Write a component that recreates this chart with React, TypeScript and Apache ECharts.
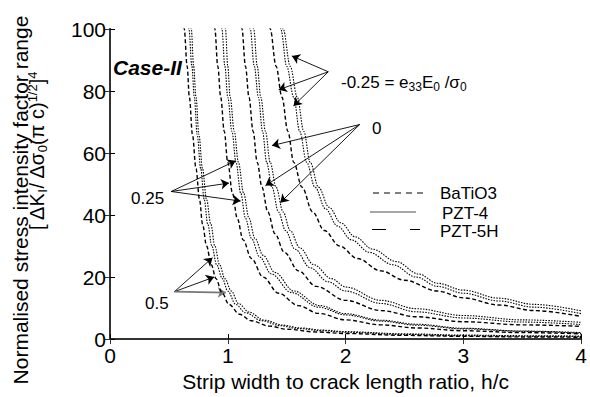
import React, { useEffect, useRef } from "react";
import * as echarts from "echarts";

// x ticks / y ticks
const xMin = 0, xMax = 4, xStep = 1;
const yMin = 0, yMax = 100, yStep = 20;

// e33E0/sigma0 = 0.5
const g05_BaTiO3 = [[0.62,105],[0.63,100],[0.655,88],[0.674,78],[0.70,66],[0.73,55],[0.76,45],[0.786,37],[0.82,30],[0.86,24],[0.90,19.5],[0.95,15],[1.01,11.2],[1.1,8],[1.2,5.9],[1.35,4.2],[1.5,3.2],[1.75,2.3],[2.0,1.8],[2.5,1.2],[3.0,0.9],[3.5,0.7],[4.0,0.6]];
const g05_PZT4 = [[0.66,105],[0.67,100],[0.695,88],[0.716,78],[0.74,66],[0.77,55],[0.80,45],[0.83,37],[0.865,30],[0.905,24],[0.954,19.5],[1.0,15.5],[1.067,11.2],[1.15,8.5],[1.29,5.9],[1.45,4.3],[1.6,3.4],[1.8,2.7],[2.0,2.2],[2.5,1.5],[3.0,1.1],[3.5,0.9],[4.0,0.8]];
const g05_PZT5H = [[0.68,105],[0.69,100],[0.71,88],[0.73,78],[0.755,66],[0.785,55],[0.82,45],[0.856,37],[0.89,30],[0.93,24],[0.975,19.5],[1.03,15.5],[1.09,11.5],[1.18,8.7],[1.31,6.1],[1.47,4.5],[1.62,3.6],[1.8,2.9],[2.0,2.4],[2.5,1.7],[3.0,1.3],[3.5,1.1],[4.0,1.0]];

// 0.25
const g025_BaTiO3 = [[0.88,105],[0.89,100],[0.915,88],[0.94,78],[0.97,67],[1.0,57],[1.04,47],[1.08,39],[1.13,32],[1.2,26],[1.3,20],[1.43,14.8],[1.6,10.8],[1.77,8.3],[2.0,6.2],[2.3,4.6],[2.6,3.6],[3.0,2.7],[3.5,2.1],[4.0,1.7]];
const g025_PZT4 = [[0.94,105],[0.95,100],[0.975,88],[1.0,78],[1.035,67],[1.07,57],[1.11,47],[1.15,39],[1.2,32.5],[1.27,26.5],[1.37,21],[1.54,15],[1.77,10.3],[2.0,7.8],[2.3,5.8],[2.6,4.5],[3.0,3.3],[3.5,2.5],[4.0,1.9]];
const g025_PZT5H = [[0.97,105],[0.98,100],[1.0,88],[1.02,78],[1.055,67],[1.09,57],[1.135,47],[1.18,39],[1.23,32.5],[1.30,27],[1.40,21.5],[1.56,15.5],[1.78,10.8],[2.0,8.2],[2.3,6.1],[2.6,4.8],[3.0,3.5],[3.5,2.6],[4.0,2.1]];

// 0
const g0_BaTiO3 = [[1.11,105],[1.12,100],[1.15,88],[1.18,78],[1.215,67],[1.25,57],[1.29,49],[1.34,41],[1.40,34],[1.48,28],[1.6,22],[1.75,17],[2.0,12.5],[2.3,9.2],[2.6,7.2],[3.0,5.6],[3.5,4.6],[4.0,4.1]];
const g0_PZT4 = [[1.18,105],[1.19,100],[1.225,88],[1.26,78],[1.295,67],[1.33,57],[1.375,49],[1.43,41],[1.49,35],[1.57,29],[1.7,23],[1.85,18.5],[2.0,15.5],[2.3,11.5],[2.6,8.8],[3.0,6.8],[3.5,5.5],[4.0,4.7]];
const g0_PZT5H = [[1.21,105],[1.22,100],[1.25,88],[1.28,78],[1.32,67],[1.36,57],[1.41,49],[1.47,41],[1.53,35],[1.61,29.5],[1.73,24],[1.88,19.5],[2.0,16.8],[2.3,12.5],[2.6,9.8],[3.0,7.6],[3.5,6.2],[4.0,5.4]];

// -0.25
const gm025_BaTiO3 = [[1.35,105],[1.36,100],[1.41,88],[1.46,78],[1.51,67],[1.56,57],[1.63,49],[1.72,41],[1.82,35],[1.95,30],[2.1,26],[2.3,22],[2.5,19],[2.78,15.5],[3.0,13.3],[3.3,11],[3.6,9.2],[4.0,7.3]];
const gm025_PZT4 = [[1.44,105],[1.45,100],[1.50,88],[1.56,78],[1.61,67],[1.67,57],[1.74,49],[1.83,42],[1.93,36.5],[2.05,32],[2.2,28],[2.4,24],[2.6,20],[2.78,17],[3.0,14.8],[3.3,12.3],[3.6,10.3],[4.0,8.2]];
const gm025_PZT5H = [[1.46,105],[1.47,100],[1.53,88],[1.59,78],[1.645,67],[1.70,57],[1.77,49],[1.86,42.5],[1.96,37.5],[2.08,33],[2.23,29],[2.43,25],[2.62,21],[2.78,18],[3.0,15.8],[3.3,13.2],[3.6,11.2],[4.0,9.1]];

// annotation arrows (data space): [from, to]
const arrowsBlack = [
  [[1.853, 86.2], [1.544, 91.3]],
  [[1.853, 86.2], [1.432, 80.4]],
  [[1.853, 86.2], [1.558, 75.2]],
  [[2.12, 69.2], [1.375, 62.4]],
  [[2.12, 69.2], [1.32, 49.5]],
  [[2.12, 69.2], [1.446, 44.0]],
  [[0.52, 47.6], [1.067, 57.5]],
  [[0.52, 47.6], [1.01, 50.3]],
  [[0.52, 47.6], [1.109, 44.5]],
  [[0.547, 15.3], [0.87, 26.25]],
  [[0.547, 15.3], [0.884, 20]],
];
const arrowsGray = [[[0.547, 15.3], [0.983, 15]]];

const FONT = "'Liberation Sans', Arial, Helvetica, sans-serif";

export default function App() {
  const ref = useRef<HTMLDivElement>(null);
  useEffect(() => {
    if (!ref.current) return;
    const chart = echarts.init(ref.current, null, { renderer: "svg" });
    const dashed = { color: "#000", width: 1.4, type: [4, 2.5] as any };
    const dotted = { color: "#000", width: 1.1, type: [1.5, 1.3] as any };
    const mk = (name: string, data: number[][], ls: any) => ({
      type: "line",
      name,
      data,
      showSymbol: false,
      symbol: "none",
      smooth: 0.35,
      smoothMonotone: "x",
      clip: true,
      lineStyle: ls,
      silent: true,
    });
    const series: any[] = [
      mk("BaTiO3", g05_BaTiO3, dashed),
      mk("PZT-4", g05_PZT4, dotted),
      mk("PZT-5H", g05_PZT5H, dotted),
      mk("BaTiO3", g025_BaTiO3, dashed),
      mk("PZT-4", g025_PZT4, dotted),
      mk("PZT-5H", g025_PZT5H, dotted),
      mk("BaTiO3", g0_BaTiO3, dashed),
      mk("PZT-4", g0_PZT4, dotted),
      mk("PZT-5H", g0_PZT5H, dotted),
      mk("BaTiO3", gm025_BaTiO3, dashed),
      mk("PZT-4", gm025_PZT4, dotted),
      mk("PZT-5H", gm025_PZT5H, dotted),
      {
        type: "lines",
        coordinateSystem: "cartesian2d",
        xAxisIndex: 0,
        yAxisIndex: 0,
        symbol: ["none", "arrow"],
        symbolSize: 8,
        silent: true,
        lineStyle: { color: "#000", width: 0.9, opacity: 1 },
        data: [
          ...arrowsBlack.map((c) => ({ coords: c })),
          ...arrowsGray.map((c) => ({ coords: c, lineStyle: { color: "#777", width: 1.6 } })),
        ],
      },
    ];
    const axisLabel = { fontSize: 21, color: "#000", fontFamily: FONT };
    chart.setOption({
      animation: false,
      backgroundColor: "#fff",
      grid: { left: 110, right: 5, top: 29, bottom: 48, containLabel: false },
      xAxis: [
        {
          type: "value",
          min: xMin,
          max: xMax,
          interval: xStep,
          name: "Strip width to crack length ratio, h/c",
          nameLocation: "middle",
          nameGap: 27,
          nameTextStyle: { fontSize: 21, color: "#000", fontFamily: FONT },
          axisLine: { show: true, lineStyle: { color: "#000", width: 1.5 } },
          axisTick: { show: true, inside: true, length: 5, lineStyle: { color: "#000" } },
          axisLabel: { ...axisLabel, margin: 6 },
          splitLine: { show: false },
        },
        {
          type: "value",
          position: "top",
          min: xMin,
          max: xMax,
          interval: xStep,
          axisLine: { show: true, lineStyle: { color: "#333", width: 2 } },
          axisTick: { show: true, inside: true, length: 5, lineStyle: { color: "#333" } },
          axisLabel: { show: false },
          splitLine: { show: false },
        },
      ],
      yAxis: [
        {
          type: "value",
          min: yMin,
          max: yMax,
          interval: yStep,
          axisLine: { show: true, lineStyle: { color: "#000", width: 1.5 } },
          axisTick: { show: true, inside: true, length: 5, lineStyle: { color: "#000" } },
          axisLabel: { ...axisLabel, margin: 4 },
          splitLine: { show: false },
        },
        {
          type: "value",
          position: "right",
          min: yMin,
          max: yMax,
          interval: yStep,
          axisLine: { show: true, lineStyle: { color: "#333", width: 2 } },
          axisTick: { show: true, inside: true, length: 5, lineStyle: { color: "#333" } },
          axisLabel: { show: false },
          splitLine: { show: false },
        },
      ],
      series,
      graphic: [
        {
          type: "text",
          x: 20,
          y: 200,
          rotation: Math.PI / 2,
          style: {
            text: "Normalised stress intensity factor range",
            font: `21px ${FONT}`,
            fill: "#000",
            align: "center",
            verticalAlign: "middle",
          },
        },
        {
          type: "text",
          x: 37,
          y: 151,
          rotation: Math.PI / 2,
          style: {
            text: "[ ΔK{sub|I}/ Δσ{sub|0}(π c){sup|1/2}]{sup|4}",
            font: `20px ${FONT}`,
            fill: "#000",
            align: "center",
            verticalAlign: "middle",
            rich: {
              sub: { fontSize: 13, fontFamily: FONT, padding: [10, 0, 0, 0], fill: "#000" },
              sup: { fontSize: 13, fontFamily: FONT, padding: [0, 0, 10, 0], fill: "#000" },
            },
          },
        },
        {
          type: "text",
          x: 113,
          y: 67,
          style: {
            text: "Case-II",
            font: `italic bold 21px ${FONT}`,
            fill: "#000",
            align: "left",
            verticalAlign: "middle",
          },
        },
        {
          type: "text",
          x: 341,
          y: 82,
          style: {
            text: "-0.25 = e{s|33}E{s|0} /σ{s|0}",
            font: `17px ${FONT}`,
            fill: "#000",
            align: "left",
            verticalAlign: "middle",
            rich: { s: { fontSize: 12, fontFamily: FONT, padding: [9, 0, 0, 0], fill: "#000" } },
          },
        },
        { type: "text", x: 372, y: 128, style: { text: "0", font: `17px ${FONT}`, fill: "#000", align: "left", verticalAlign: "middle" } },
        { type: "text", x: 131, y: 198, style: { text: "0.25", font: `17px ${FONT}`, fill: "#000", align: "left", verticalAlign: "middle" } },
        { type: "text", x: 145, y: 303, style: { text: "0.5", font: `17px ${FONT}`, fill: "#000", align: "left", verticalAlign: "middle" } },
        // legend
        { type: "line", shape: { x1: 373, y1: 193, x2: 428, y2: 193 }, style: { stroke: "#000", lineWidth: 1, lineDash: [6, 5] } },
        { type: "text", x: 440, y: 193, style: { text: "BaTiO3", font: `17px ${FONT}`, fill: "#000", align: "left", verticalAlign: "middle" } },
        { type: "line", shape: { x1: 370, y1: 212, x2: 416, y2: 212 }, style: { stroke: "#888", lineWidth: 1.3 } },
        { type: "text", x: 442, y: 213, style: { text: "PZT-4", font: `17px ${FONT}`, fill: "#000", align: "left", verticalAlign: "middle" } },
        { type: "line", shape: { x1: 372, y1: 229.5, x2: 420, y2: 229.5 }, style: { stroke: "#000", lineWidth: 1.1, lineDash: [14, 24, 10, 100] } },
        { type: "text", x: 440, y: 231, style: { text: "PZT-5H", font: `17px ${FONT}`, fill: "#000", align: "left", verticalAlign: "middle" } },
      ],
    });
    return () => chart.dispose();
  }, []);
  return (
    <div
      ref={ref}
      style={{ position: "fixed", left: 0, top: 0, width: 590, height: 397, background: "#fff" }}
    />
  );
}
